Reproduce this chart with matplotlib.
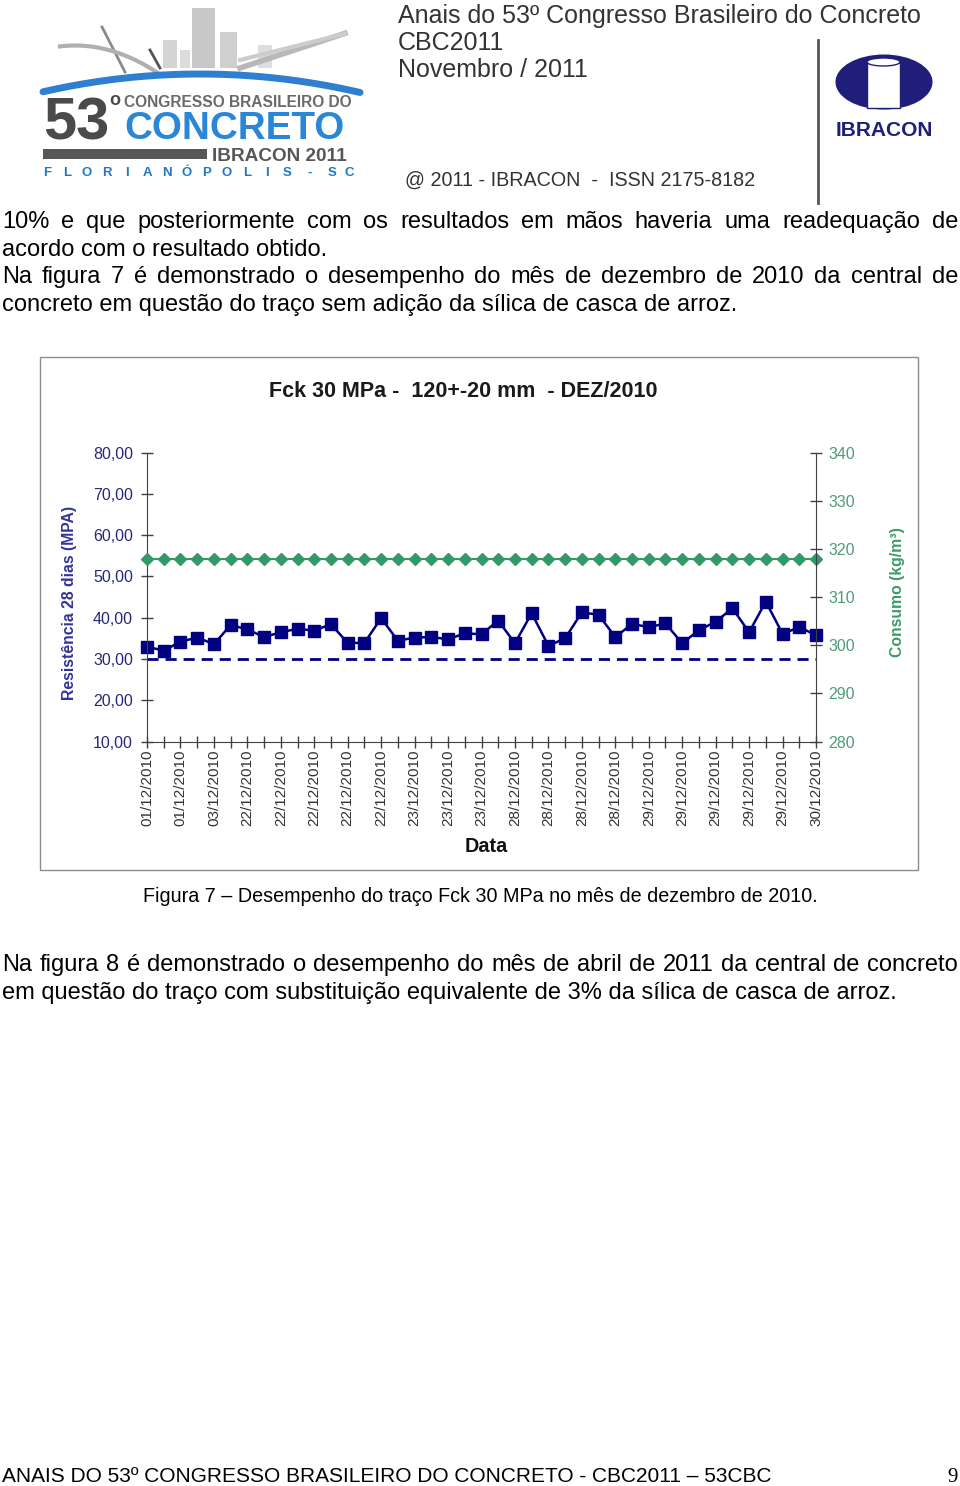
import numpy as np
import matplotlib
matplotlib.use("Agg")
import matplotlib.pyplot as plt
from matplotlib import patches, font_manager

# ---- chart data ----
categories = np.arange(41)
tick_dates = ['01/12/2010', '01/12/2010', '03/12/2010', '22/12/2010', '22/12/2010',
              '22/12/2010', '22/12/2010', '22/12/2010', '23/12/2010', '23/12/2010',
              '23/12/2010', '28/12/2010', '28/12/2010', '28/12/2010', '28/12/2010',
              '29/12/2010', '29/12/2010', '29/12/2010', '29/12/2010', '29/12/2010',
              '30/12/2010']
resistencia = [33.0, 32.0, 34.2, 35.2, 33.6, 38.2, 37.2, 35.3, 36.5, 37.3,
               36.9, 38.4, 33.9, 33.9, 39.9, 34.4, 35.2, 35.3, 34.8, 36.2,
               36.0, 39.3, 33.8, 41.1, 33.2, 35.0, 41.3, 40.7, 35.3, 38.5,
               37.7, 38.6, 33.8, 37.0, 39.0, 42.3, 36.5, 43.9, 36.1, 37.7, 35.8]
fck = [30.0] * 41
consumo = [318.0] * 41

W, H = 960, 1486
names = {f.name for f in font_manager.fontManager.ttflist}
SANS = 'Liberation Sans'
NARROW = 'Liberation Sans Narrow' if 'Liberation Sans Narrow' in names else SANS

fig = plt.figure(figsize=(W / 100, H / 100), dpi=100)
page = fig.add_axes([0, 0, 1, 1])
page.set_xlim(0, W)
page.set_ylim(H, 0)
page.axis('off')
renderer = fig.canvas.get_renderer()


def fit(x, y, s, width, ha='left', va='center', **kw):
    t = page.text(x, y, s, fontsize=10, ha=ha, va=va, **kw)
    w = t.get_window_extent(renderer).width
    t.set_fontsize(10 * width / w)
    return t


def line(y, s, size, justify=False, x0=2, x1=958):
    if not justify:
        page.text(x0, y, s, fontsize=size, ha='left', va='center', family=SANS)
        return
    words = s.split()
    arts = [page.text(0, y, w, fontsize=size, ha='left', va='center', family=SANS) for w in words]
    widths = [a.get_window_extent(renderer).width for a in arts]
    gap = (x1 - x0 - sum(widths)) / (len(words) - 1)
    x = x0
    for a, w in zip(arts, widths):
        a.set_x(x)
        x += w + gap


# ---- header: congress logo ----
for bx, by, bw, bh, c in [(163, 40, 14, 28, '#d4d4d4'), (192, 8, 23, 60, '#c8c8c8'),
                          (180, 50, 10, 18, '#dcdcdc'), (220, 32, 17, 36, '#cfcfcf'),
                          (258, 45, 14, 23, '#dedede')]:
    page.add_patch(patches.Rectangle((bx, by), bw, bh, color=c, lw=0))
page.plot([102, 125], [27, 72], color='#8a8a8a', lw=2)
page.plot([150, 160], [50, 68], color='#555555', lw=2)
bx = np.linspace(60, 160, 50)
page.plot(bx, 40 + 0.004 * (bx - 100) ** 2 + (bx - 60) * 0.2, color='#b0b0b0', lw=3)
bx = np.linspace(240, 345, 50)
page.plot(bx, 68 - (bx - 240) * 0.33, color='#b8b8b8', lw=4)
page.plot(bx, 60 - (bx - 240) * 0.25, color='#cccccc', lw=3)
ax_arc = np.linspace(43, 360, 200)
page.plot(ax_arc, 74 + 18 * ((ax_arc - 200) / 158) ** 2, color='#2f7fd0', lw=5, solid_capstyle='round')
t53 = page.text(43, 140, '53', fontsize=43, fontweight='bold', color='#4a4a4a', ha='left',
                va='baseline', family=SANS)
x53 = page.transData.inverted().transform(t53.get_window_extent(renderer))[1][0]
page.text(x53, 92, 'o', fontsize=13, fontweight='bold', color='#4a4a4a', ha='left',
          va='top', family=SANS)
fit(124, 107, 'CONGRESSO BRASILEIRO DO', 228, va='baseline', color='#6a6a6a',
    fontweight='bold', family=SANS)
fit(124, 139, 'CONCRETO', 220, va='baseline', color='#2a86d6', fontweight='bold', family=SANS)
page.add_patch(patches.Rectangle((43, 149), 164, 10, color='#575757', lw=0))
fit(212, 161, 'IBRACON 2011', 135, va='baseline', color='#575757', fontweight='bold', family=SANS)
letters = list('FLORIANÓPOLIS')
for i, ch in enumerate(letters):
    page.text(47 + i * 20, 173, ch, fontsize=9.5, fontweight='bold', color='#1f78c8',
              ha='center', va='center', family=SANS)
for xx, ch in [(310, '-'), (332, 'S'), (349, 'C')]:
    page.text(xx, 173, ch, fontsize=9.5, fontweight='bold', color='#1f78c8',
              ha='center', va='center', family=SANS)

# ---- header: right side ----
t = fit(398, 16, 'Anais do 53º Congresso Brasileiro do Concreto', 526, color='#333333', family=SANS)
hs = t.get_fontsize()
page.text(398, 43, 'CBC2011', fontsize=hs, ha='left', va='center', color='#333333', family=SANS)
page.text(398, 70, 'Novembro / 2011', fontsize=hs, ha='left', va='center', color='#333333', family=SANS)
fit(405, 180, '@ 2011 - IBRACON  -  ISSN 2175-8182', 350, color='#333333', family=SANS)
page.plot([818, 818], [40, 203], color='#555555', lw=2)
page.add_patch(patches.Ellipse((884, 82), 97, 55, color='#1f1f7a', lw=0))
page.add_patch(patches.Rectangle((867, 62), 33, 46, facecolor='white', edgecolor='#1f1f7a', lw=1))
page.add_patch(patches.Ellipse((883.5, 62), 33, 8, facecolor='white', edgecolor='#1f1f7a', lw=1))
fit(884, 131, 'IBRACON', 97, ha='center', color='#1f1f7a', fontweight='bold', family=SANS)

# ---- body text ----
body = 17
line(222, '10% e que posteriormente com os resultados em mãos haveria uma readequação de', body, True)
line(250, 'acordo com o resultado obtido.', body)
line(277, 'Na figura 7 é demonstrado o desempenho do mês de dezembro de 2010 da central de', body, True)
line(305, 'concreto em questão do traço sem adição da sílica de casca de arroz.', body)
fit(480, 896, 'Figura 7 – Desempenho do traço Fck 30 MPa no mês de dezembro de 2010.', 676,
    ha='center', family=SANS)
line(965, 'Na figura 8 é demonstrado o desempenho do mês de abril de 2011 da central de concreto', body, True)
line(993, 'em questão do traço com substituição equivalente de 3% da sílica de casca de arroz.', body)
fit(2, 1477, 'ANAIS DO 53º CONGRESSO BRASILEIRO DO CONCRETO - CBC2011 – 53CBC', 768, family=NARROW)
page.text(958, 1477, '9', fontsize=15, ha='right', va='center', family='Liberation Serif')

# chart frame
page.add_patch(patches.Rectangle((40, 357), 878, 513, fill=False, edgecolor='#8c8c8c', lw=1))

# ---- chart ----
ax = fig.add_axes([147 / W, 1 - 741.6 / H, 669 / W, 289.1 / H])
ax.patch.set_visible(False)
ax.plot(categories, fck, color='#000080', lw=2, ls=(0, (4, 2.5)), clip_on=False)
ax.plot(categories, resistencia, color='#000080', lw=1.8, marker='s', ms=8, clip_on=False)
ax.set_xlim(0, 40)
ax.set_ylim(10, 80)
ax.set_yticks(range(10, 81, 10))
ax.yaxis.set_major_formatter(lambda v, p: f'{v:.2f}'.replace('.', ','))
ax.set_xticks(categories)
labels = []
for i in categories:
    labels.append(tick_dates[i // 2] if i % 2 == 0 else '')
ax.set_xticklabels(labels, rotation=90, family=SANS)
for s in ['top', 'right']:
    ax.spines[s].set_visible(False)
for s in ['left', 'bottom']:
    ax.spines[s].set_color('#404040')
ax.tick_params(axis='both', direction='inout', length=8, width=1, color='#404040')
ax.tick_params(axis='x', labelsize=11, labelcolor='#333333', pad=2)
ax.tick_params(axis='y', labelsize=11.5, labelcolor='#28287a', pad=6)
for lab in ax.get_yticklabels():
    lab.set_family(SANS)
ax.set_ylabel('Resistência 28 dias (MPA)', fontsize=11.3, fontweight='bold', color='#333399',
              family=SANS)
ax.yaxis.set_label_coords(-0.1046, 0.48)
ax.set_xlabel('Data', fontsize=14.3, fontweight='bold', color='#111111', family=SANS)
ax.xaxis.set_label_coords(0.507, -0.33)
ax.text(0.472, 1.21, 'Fck 30 MPa -  120+-20 mm  - DEZ/2010', transform=ax.transAxes,
        fontsize=15.5, fontweight='bold', ha='center', va='center', color='#1a1a1a', family=SANS)

ax2 = ax.twinx()
ax2.plot(categories, consumo, color='#339966', lw=1.5, marker='D', ms=6, clip_on=False)
ax2.set_ylim(280, 340)
ax2.set_yticks(range(280, 341, 10))
for s in ['top', 'left', 'bottom']:
    ax2.spines[s].set_visible(False)
ax2.spines['right'].set_color('#404040')
ax2.tick_params(axis='y', direction='inout', length=8, width=1, color='#404040',
                labelsize=11.5, labelcolor='#4e9c78', pad=5)
for lab in ax2.get_yticklabels():
    lab.set_family(SANS)
ax2.set_ylabel('Consumo (kg/m³)', fontsize=11.3, fontweight='bold', color='#3e9a6b', family=SANS)
ax2.yaxis.set_label_coords(1.1106, 0.518)

fig.savefig('out.png', dpi=100)
